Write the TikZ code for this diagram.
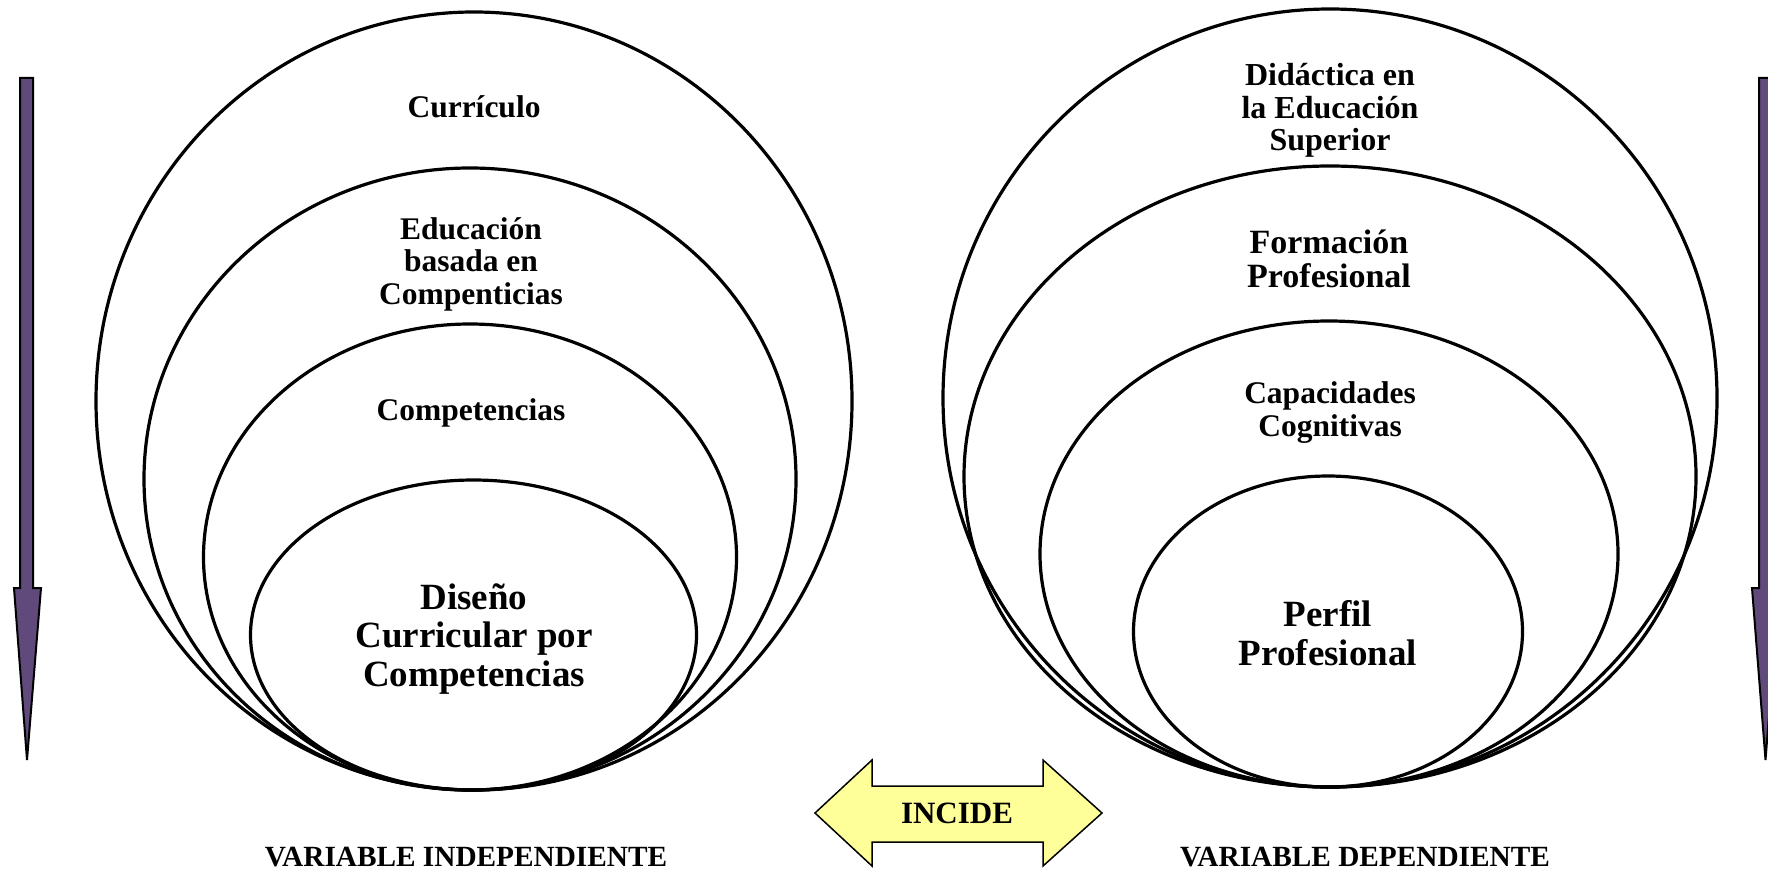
\documentclass[tikz,border=0pt]{standalone}
\usepackage{fontspec}
\setmainfont{Liberation Serif}
\definecolor{arrowpurple}{RGB}{96,74,123}
\definecolor{incideyellow}{RGB}{255,255,153}
\tikzset{
  ring/.style={draw=black, line width=3.2pt, ellipse, inner sep=0pt, outer sep=0pt},
  vlabel/.style={anchor=base, align=center, inner sep=0pt, font=\bfseries\fontsize{31.5}{32.5}\selectfont},
  purplearrow/.style={fill=arrowpurple, draw=black, line width=2pt, line join=miter},
  incidearrow/.style={fill=incideyellow, draw=black, line width=1.5pt, line join=miter}
}
\usetikzlibrary{shapes.geometric}
\begin{document}
\begin{tikzpicture}[x=1pt,y=-1pt]
\useasboundingbox (0,0) rectangle (1768,869);
\clip (0,0) rectangle (1768,869);
% left ellipses
\node[ring, minimum width=756pt, minimum height=778pt] (L1) at (474,401) {};
\node[ring, minimum width=652pt, minimum height=622pt] (L2) at (470,479) {};
\node[ring, minimum width=533pt, minimum height=466pt] (L3) at (470,557) {};
\node[ring, minimum width=446pt, minimum height=310pt] (L4) at (473.5,635) {};
% right ellipses
\node[ring, minimum width=774pt, minimum height=778pt] (R1) at (1330,398) {};
\node[ring, minimum width=732pt, minimum height=621pt] (R2) at (1330,476.5) {};
\node[ring, minimum width=578pt, minimum height=466pt] (R3) at (1329,554) {};
\node[ring, minimum width=389pt, minimum height=311pt] (R4) at (1328,631.5) {};
% left labels (anchor base = baseline of last line)
\node[vlabel] (t1) at (474,118) {Currículo};
\node[vlabel] (t2) at (471,304) {Educación\\basada en\\Compenticias};
\node[vlabel] (t3) at (471,420) {Competencias};
\node[vlabel, font=\bfseries\fontsize{37}{38.5}\selectfont] (t4) at (474,686) {Diseño\\Curricular por\\Competencias};
% right labels
\node[vlabel, font=\bfseries\fontsize{32}{32.5}\selectfont] (u1) at (1330,151) {Didáctica en\\la Educación\\Superior};
\node[vlabel, font=\bfseries\fontsize{34}{34}\selectfont] (u2) at (1329,287) {Formación\\Profesional};
\node[vlabel, font=\bfseries\fontsize{31.5}{33}\selectfont] (u3) at (1330,436) {Capacidades\\Cognitivas};
\node[vlabel, font=\bfseries\fontsize{37}{39}\selectfont] (u4) at (1328,665) {Perfil\\Profesional};
% purple arrows
\draw[purplearrow] (20,78) -- (33,78) -- (33,588) -- (41,588) -- (27,760) -- (14,588) -- (20,588) -- cycle;
\draw[purplearrow] (1759,78) -- (1772,78) -- (1772,588) -- (1779,588) -- (1765.5,760) -- (1752,588) -- (1759,588) -- cycle;
% incide arrow
\draw[incidearrow] (815,813) -- (872,760) -- (872,786) -- (1043,786) -- (1043,760) -- (1102,813) -- (1043,866) -- (1043,842) -- (872,842) -- (872,866) -- cycle;
\node[vlabel, font=\bfseries\fontsize{31}{31}\selectfont] (inc) at (957,823) {INCIDE};
% bottom labels
\node[vlabel, font=\bfseries\fontsize{29.3}{29.3}\selectfont] (vi) at (466,866) {VARIABLE INDEPENDIENTE};
\node[vlabel, font=\bfseries\fontsize{29.3}{29.3}\selectfont] (vd) at (1365,866) {VARIABLE DEPENDIENTE};
\end{tikzpicture}
\end{document}
